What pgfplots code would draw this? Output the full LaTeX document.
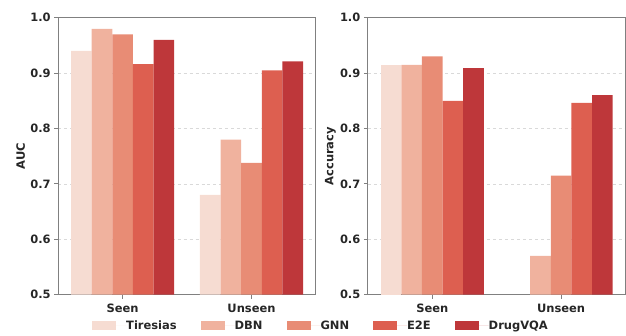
\documentclass[border=0pt]{standalone}
\usepackage{fontspec}
\setmainfont{DejaVu Sans}
\newfontfamily\bfdv{DejaVu Sans Bold}
\usepackage{pgfplots}
\pgfplotsset{compat=1.18}
\definecolor{cT}{RGB}{246,220,210}
\definecolor{cD}{RGB}{240,178,158}
\definecolor{cG}{RGB}{232,140,117}
\definecolor{cE}{RGB}{221,95,80}
\definecolor{cV}{RGB}{190,55,58}
\definecolor{txt}{RGB}{38,38,38}
\definecolor{spine}{RGB}{128,128,128}
\pgfplotsset{
  myaxis/.style={
    scale only axis, width=258bp, height=277.3bp,
    ybar, bar width=0.16,
    xmin=-0.5, xmax=1.5, ymin=0.5, ymax=1.0,
    xtick={0,1}, xticklabels={Seen,Unseen},
    ytick={0.5,0.6,0.7,0.8,0.9,1.0},
    yticklabels={0.5,0.6,0.7,0.8,0.9,1.0},
    tick label style={font=\bfdv\fontsize{11.5bp}{13bp}\selectfont, text=txt},
    axis line style={spine, line width=0.9bp},
    tick style={spine, line width=0.9bp},
    tick align=outside, major tick length=4bp,
    xtick pos=left, ytick pos=left,
    ymajorgrids, grid style={dashed, gray!30, line width=0.5bp},
    every axis y label/.style={at={(axis description cs:0,0.5)}, xshift=-37.6bp, rotate=90, anchor=center,
      font=\bfdv\fontsize{11.5bp}{13bp}\selectfont, text=txt},
    xticklabel style={yshift=-1.5bp},
  },
}
\begin{document}
\begin{tikzpicture}
\path (0,0) rectangle (626bp,336bp);
\begin{axis}[myaxis, at={(58.3bp,41bp)}, anchor=south west, ylabel={AUC},
  legend columns=5,
  legend style={at={(1.016,-0.1118)}, anchor=center, draw=none, fill=none,
    font=\bfdv\fontsize{11.5bp}{13bp}\selectfont, text=txt,
    /tikz/every even column/.append style={column sep=24bp},
    nodes={inner sep=0pt, outer sep=0pt}},
  legend image code/.code={\path[#1,draw=none] (0bp,-4.3bp) rectangle (24bp,4.3bp); \path (24bp,0) -- (34bp,0);},
]
\addplot[fill=cT, draw=none, bar shift=-0.32] coordinates {(0,0.94) (1,0.68)};
\addplot[fill=cD, draw=none, bar shift=-0.16] coordinates {(0,0.98) (1,0.78)};
\addplot[fill=cG, draw=none, bar shift=0] coordinates {(0,0.97) (1,0.738)};
\addplot[fill=cE, draw=none, bar shift=0.16] coordinates {(0,0.916) (1,0.905)};
\addplot[fill=cV, draw=none, bar shift=0.32] coordinates {(0,0.96) (1,0.921)};
\legend{Tiresias,DBN,GNN,E2E,DrugVQA}
\end{axis}
\begin{axis}[myaxis, at={(368.3bp,41bp)}, anchor=south west, ylabel={Accuracy}]
\addplot[fill=cT, draw=none, bar shift=-0.32] coordinates {(0,0.915)};
\addplot[fill=cD, draw=none, bar shift=-0.16] coordinates {(0,0.915) (1,0.57)};
\addplot[fill=cG, draw=none, bar shift=0] coordinates {(0,0.93) (1,0.715)};
\addplot[fill=cE, draw=none, bar shift=0.16] coordinates {(0,0.85) (1,0.846)};
\addplot[fill=cV, draw=none, bar shift=0.32] coordinates {(0,0.909) (1,0.86)};
\end{axis}
\end{tikzpicture}
\end{document}
